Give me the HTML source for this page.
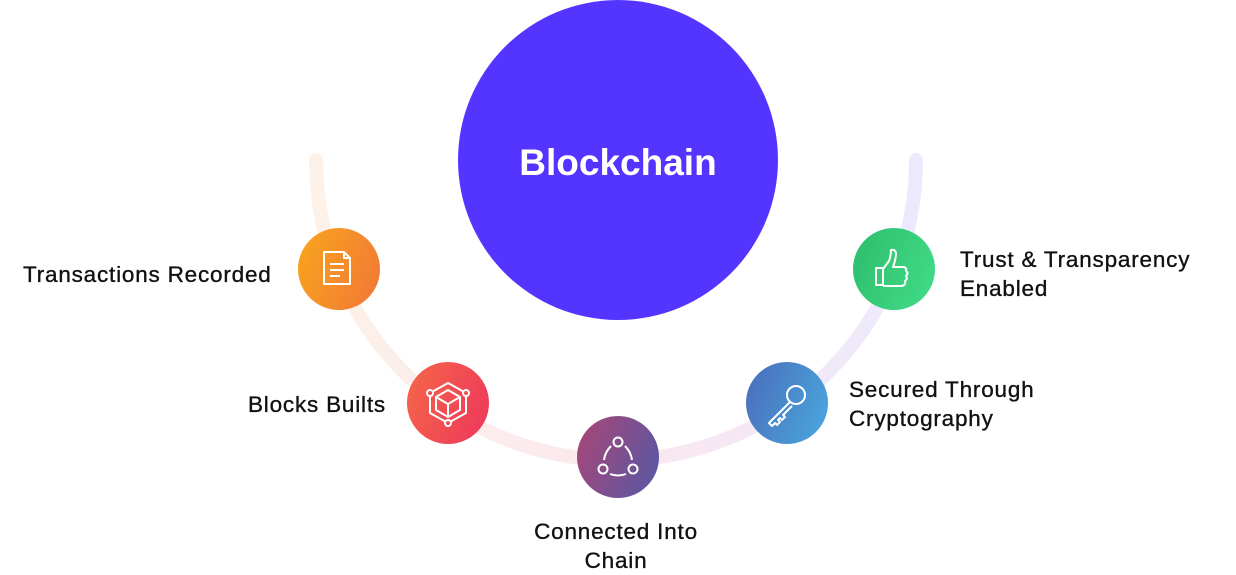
<!DOCTYPE html>
<html><head><meta charset="utf-8"><style>
html,body{margin:0;padding:0;background:#fff;}
body{width:1236px;height:572px;position:relative;overflow:hidden;font-family:"Liberation Sans",sans-serif;}
.t{position:absolute;font-size:22.5px;letter-spacing:0.8px;color:#111;line-height:29px;white-space:nowrap;-webkit-text-stroke:0.35px #111;}
</style></head><body>
<svg width="1236" height="572" style="position:absolute;left:0;top:0">
<defs>
<linearGradient id="arc" x1="0" x2="1" y1="0" y2="0">
<stop offset="0" stop-color="#fdf1e8"/><stop offset="0.5" stop-color="#fbe8ee"/><stop offset="1" stop-color="#ece9fd"/></linearGradient>
<linearGradient id="g1" x1="0" x2="1" y1="0.3" y2="0.7"><stop offset="0" stop-color="#f8a21f"/><stop offset="1" stop-color="#f27a35"/></linearGradient>
<linearGradient id="g2" x1="0" x2="1" y1="0.3" y2="0.7"><stop offset="0" stop-color="#f4634a"/><stop offset="1" stop-color="#ee3a5a"/></linearGradient>
<linearGradient id="g3" x1="0" x2="1" y1="0.3" y2="0.7"><stop offset="0" stop-color="#a3477a"/><stop offset="1" stop-color="#5c57a2"/></linearGradient>
<linearGradient id="g4" x1="0" x2="1" y1="0.3" y2="0.7"><stop offset="0" stop-color="#4a71bd"/><stop offset="1" stop-color="#4aa4dd"/></linearGradient>
<linearGradient id="g5" x1="0" x2="1" y1="0.3" y2="0.7"><stop offset="0" stop-color="#2fbf6e"/><stop offset="1" stop-color="#41da86"/></linearGradient>
</defs>
<path d="M316 160 A300 300 0 0 0 916 160" fill="none" stroke="url(#arc)" stroke-width="14" stroke-linecap="round"/>
<circle cx="618" cy="160" r="160" fill="#5435ff"/>
<text x="618" y="175" text-anchor="middle" font-family="Liberation Sans, sans-serif" font-weight="bold" font-size="37" fill="#fff">Blockchain</text>
<g stroke="#fff" stroke-width="2" fill="none" stroke-linejoin="round">
<circle cx="339" cy="269" r="41" fill="url(#g1)" stroke="none"/>
<path d="M324 252 h20 l6 6 v26 h-26 z M344 252 v6 h6"/>
<path d="M330 264 h14 M330 270 h14 M330 276 h10"/>
<circle cx="448" cy="403" r="41" fill="url(#g2)" stroke="none"/>
<path d="M448 383 l18 10 v20 l-18 10 l-18 -10 v-20 z"/>
<path d="M448 390 l12 7 v13 l-12 7 l-12 -7 v-13 z M436 397 l12 7 l12 -7 M448 404 v13"/>
<circle cx="430" cy="393" r="3" fill="url(#g2)"/><circle cx="466" cy="393" r="3" fill="url(#g2)"/><circle cx="448" cy="423" r="3" fill="url(#g2)"/>
<circle cx="618" cy="457" r="41" fill="url(#g3)" stroke="none"/>
<circle cx="618" cy="442" r="4.5"/><circle cx="603" cy="469" r="4.5"/><circle cx="633" cy="469" r="4.5"/>
<path d="M611 446 q-6 6 -7 14 M625 446 q6 6 7 14 M610 474 q8 3 16 0"/>
<circle cx="787" cy="403" r="41" fill="url(#g4)" stroke="none"/>
<circle cx="796" cy="395" r="9"/>
<path d="M790 402 l-21 21 l3 3 l3 -3 l2 2 l3 -3 l-2 -2 l2 -2 l2 2 l3 -3 l-2 -2 l9 -9"/>
<circle cx="894" cy="269" r="41" fill="url(#g5)" stroke="none"/>
<path d="M876 268 h7 v17 h-7 z M883 269 l6 -8 q2 -5 2 -11 q4 -1 5 3 q0 6 -3 14 h11 q3 1 2 4 q3 2 0 5 q2 3 -1 5 q1 4 -3 5 h-19"/>
</g>
</svg>
<div class="t" style="left:23px;top:260px">Transactions Recorded</div>
<div class="t" style="left:248px;top:390px">Blocks Builts</div>
<div class="t" style="left:516px;top:517px;text-align:center;width:200px">Connected Into<br>Chain</div>
<div class="t" style="left:849px;top:375px">Secured Through<br>Cryptography</div>
<div class="t" style="left:960px;top:245px">Trust &amp; Transparency<br>Enabled</div>
</body></html>
